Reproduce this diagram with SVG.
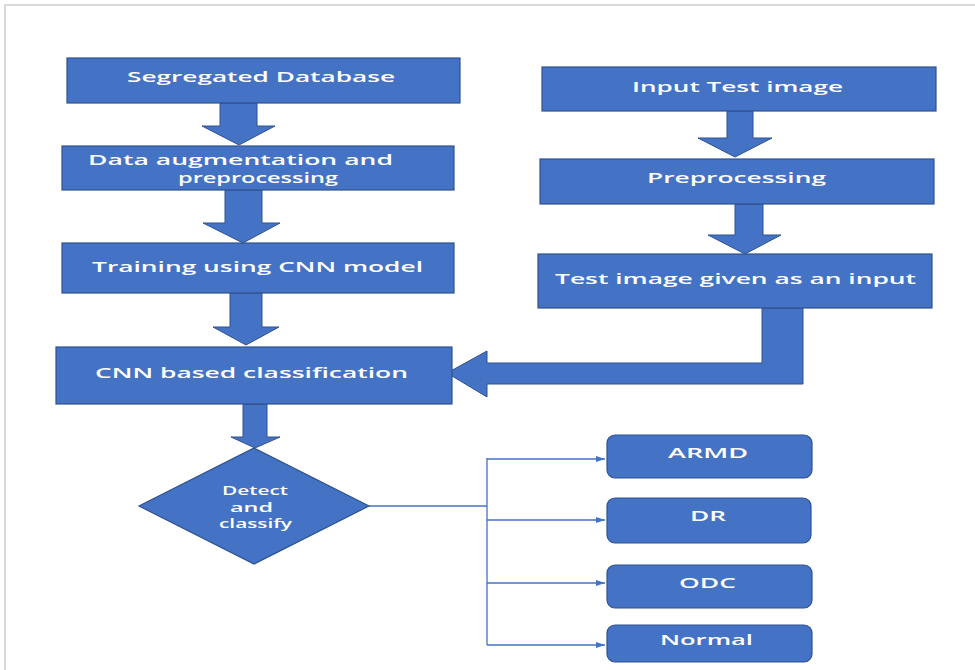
<svg xmlns="http://www.w3.org/2000/svg" width="975" height="670" viewBox="0 0 975 670">
<defs>
<style>
.box{fill:#4472C4;stroke:#2F528F;stroke-width:1.2}
.blk{fill:#4472C4;stroke:#2F528F;stroke-width:1}
.t{font-family:"Open Sans","Liberation Sans",sans-serif;font-weight:600;font-size:15px;fill:#ffffff}
.ts{font-family:"Open Sans","Liberation Sans",sans-serif;font-weight:600;font-size:12px;fill:#ffffff}
.ln{fill:none;stroke:#4472C4;stroke-width:1.3}
</style>
<marker id="ah" markerWidth="10" markerHeight="8" refX="9" refY="4" orient="auto" markerUnits="userSpaceOnUse">
<path d="M0,1 L9,4 L0,7 Z" fill="#4472C4"/>
</marker>
</defs>
<rect x="0" y="0" width="975" height="670" fill="#ffffff"/>
<path d="M5,670 V5 H975" fill="none" stroke="#d9d9d9" stroke-width="2"/>

<g id="connectors">
<path class="blk" d="M220,103 H257 V126 H275 L239,145 L202,126 H220 Z"/>
<path class="blk" d="M225,190 H262 V223 H280 L243,243 L203,223 H225 Z"/>
<path class="blk" d="M230,293 H262 V327 H279 L246,345 L213,327 H230 Z"/>
<path class="blk" d="M243,404 H267 V437 H280 L255,448 L231,437 H243 Z"/>
<path class="blk" d="M727,111 H753 V138 H772 L735,157 L698,138 H727 Z"/>
<path class="blk" d="M735,204 H763 V235 H781 L745,254 L708,235 H735 Z"/>
<path class="blk" d="M762,308 H803 V384 H487 V397 L447,373 L487,351 V363 H762 Z"/>
<path class="ln" d="M369,506 H487"/>
<path class="ln" d="M487,458 V645"/>
<path class="ln" d="M487,459 H605" marker-end="url(#ah)"/>
<path class="ln" d="M487,520 H605" marker-end="url(#ah)"/>
<path class="ln" d="M487,583 H605" marker-end="url(#ah)"/>
<path class="ln" d="M487,645 H605" marker-end="url(#ah)"/>
</g>

<g id="segregated-database">
<rect class="box" x="67" y="58" width="393" height="45"/>
<text class="t" x="127" y="82" textLength="268" lengthAdjust="spacingAndGlyphs">Segregated Database</text>
</g>
<g id="data-augmentation">
<rect class="box" x="62" y="146" width="392" height="44"/>
<text class="t" x="88" y="165" textLength="305" lengthAdjust="spacingAndGlyphs">Data augmentation and</text>
<text class="t" x="178" y="183" textLength="160" lengthAdjust="spacingAndGlyphs">preprocessing</text>
</g>
<g id="training">
<rect class="box" x="62" y="243" width="392" height="50"/>
<text class="t" x="92" y="272" textLength="331" lengthAdjust="spacingAndGlyphs">Training using CNN model</text>
</g>
<g id="cnn-classification">
<rect class="box" x="56" y="347" width="396" height="57"/>
<text class="t" x="95" y="378" textLength="313" lengthAdjust="spacingAndGlyphs">CNN based classification</text>
</g>
<g id="input-test-image">
<rect class="box" x="542" y="67" width="394" height="44"/>
<text class="t" x="632" y="92" textLength="211" lengthAdjust="spacingAndGlyphs">Input Test image</text>
</g>
<g id="preprocessing">
<rect class="box" x="540" y="159" width="394" height="45"/>
<text class="t" x="647" y="183" textLength="179" lengthAdjust="spacingAndGlyphs">Preprocessing</text>
</g>
<g id="test-image-input">
<rect class="box" x="538" y="254" width="394" height="54"/>
<text class="t" x="555" y="284" textLength="361" lengthAdjust="spacingAndGlyphs">Test image given as an input</text>
</g>
<g id="detect-classify">
<path class="box" d="M254,448 L369,506 L254,564 L139,506 Z"/>
<text class="ts" x="222" y="495" textLength="66" lengthAdjust="spacingAndGlyphs">Detect</text>
<text class="ts" x="230" y="512" textLength="43" lengthAdjust="spacingAndGlyphs">and</text>
<text class="ts" x="219" y="528" textLength="73" lengthAdjust="spacingAndGlyphs">classify</text>
</g>
<g id="armd">
<rect class="box" x="607" y="435" width="205" height="43" rx="8"/>
<text class="t" x="668" y="458" textLength="80" lengthAdjust="spacingAndGlyphs">ARMD</text>
</g>
<g id="dr">
<rect class="box" x="607" y="498" width="204" height="45" rx="8"/>
<text class="t" x="690" y="521" textLength="36" lengthAdjust="spacingAndGlyphs">DR</text>
</g>
<g id="odc">
<rect class="box" x="607" y="565" width="205" height="43" rx="8"/>
<text class="t" x="679" y="588" textLength="57" lengthAdjust="spacingAndGlyphs">ODC</text>
</g>
<g id="normal">
<rect class="box" x="607" y="625" width="205" height="37" rx="8"/>
<text class="t" x="660" y="645" textLength="93" lengthAdjust="spacingAndGlyphs">Normal</text>
</g>
</svg>
